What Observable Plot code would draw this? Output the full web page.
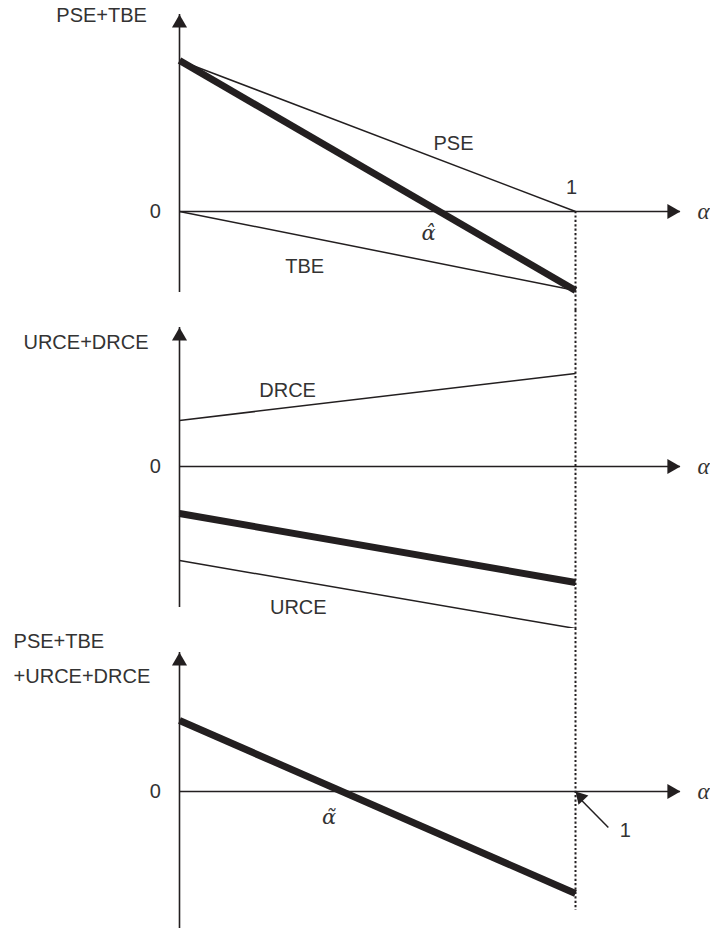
<!DOCTYPE html>
<html><head><meta charset="utf-8">
<script src="https://cdn.jsdelivr.net/npm/d3@7"></script>
<script src="https://cdn.jsdelivr.net/npm/@observablehq/plot@0.6"></script>
<style>body{margin:0;background:#fff} #chart svg{display:block;background:#fff}</style>
</head><body><div id="chart"></div>
<script>
// share of alpha (x) at the two end points
const alpha = [0, 1];
// Panel 1: PSE, TBE and their sum
const pse = [1.0, 0.0];
const tbe = [0.0, -0.523];
const pseTbe = [1.0, -0.523];
// Panel 2: DRCE, URCE and their sum
const drce = [0.305, 0.616];
const urce = [-0.623, -1.073];
const urceDrce = [-0.311, -0.768];
// Panel 3: total
const total = [0.470, -0.675];
// text
const title1 = ["PSE+TBE"];
const title2 = ["URCE+DRCE"];
const title3 = ["PSE+TBE", "+URCE+DRCE"];
const seriesNames = ["PSE", "TBE", "DRCE", "URCE"];
const xName = "α";
const zeroTick = "0";
const oneTick = "1";
const alphaHat = "α\u0302";
const alphaTilde = "α\u0303";

const INK = "#231f20";
const TXT = "#333";
const SANS = "Liberation Sans, Arial, sans-serif";
const SERIF = "Liberation Serif, DejaVu Serif, serif";
const ACCENT = "DejaVu Serif, serif";
const rows = (vals) => alpha.map((a, i) => ({a, v: vals[i]}));

function txt(s, x, y, o = {}) {
  return Plot.text([s], {x, y, text: d => d, fontFamily: o.font || (o.serif ? SERIF : SANS),
    fontStyle: o.serif ? "italic" : "normal", fontSize: o.size || 20, fill: TXT,
    textAnchor: o.anchor || "middle", dx: o.dx || 0, dy: o.dy || 0});
}

function panel({height, zero, yBottom, yTip, dotTop, dotBottom, lines, marks: extra}) {
  const xEnd = 1.265;
  const marks = [
    Plot.ruleX([1], {y1: dotTop, y2: dotBottom, stroke: INK, strokeWidth: 2, strokeDasharray: "2.2,2.2"}),
    Plot.ruleX([0], {y1: yBottom, y2: yTip, stroke: INK, strokeWidth: 1.6}),
    Plot.ruleY([0], {x1: 0, x2: xEnd, stroke: INK, strokeWidth: 1.6}),
    Plot.dot([{x: 0, y: yTip}], {x: "x", y: "y", symbol: "triangle", r: 5.6, fill: INK, stroke: "none", dy: 8.7}),
    Plot.dot([{x: xEnd, y: 0}], {x: "x", y: "y", symbol: "triangle", r: 5.6, fill: INK, stroke: "none", rotate: 90, dx: -8.7}),
    ...lines.map(([vals, w]) => Plot.line(rows(vals), {x: "a", y: "v", stroke: INK, strokeWidth: w, strokeLinecap: "butt"})),
    txt(zeroTick, -0.061, 0),
    txt(xName, 1.323, 0, {serif: true, size: 23}),
    ...extra
  ];
  return Plot.plot({
    width: 710, height,
    x: {domain: [0, 1], range: [179, 575], axis: null},
    y: {domain: [0, 1], range: [zero, zero - 151], axis: null},
    marks
  });
}

const c = document.getElementById("chart");
c.append(panel({
  height: 310, zero: 211, yBottom: -0.536, yTip: 1.305, dotTop: 0, dotBottom: -0.656,
  lines: [[pse, 1.5], [tbe, 1.5], [pseTbe, 7]],
  marks: [
    txt(title1[0], -0.311, 1.298, {anchor: "start"}),
    txt(seriesNames[0], 0.692, 0.45),
    txt(oneTick, 0.99, 0.16),
    txt(alphaHat, 0.629, -0.146, {serif: true, font: ACCENT, size: 21}),
    txt(seriesNames[1], 0.316, -0.364)
  ]
}));
c.append(panel({
  height: 318, zero: 156, yBottom: -0.934, yTip: 0.921, dotTop: 1.033, dotBottom: -1.073,
  lines: [[drce, 1.5], [urce, 1.5], [urceDrce, 7]],
  marks: [
    txt(title2[0], -0.394, 0.821, {anchor: "start"}),
    txt(seriesNames[2], 0.273, 0.503),
    txt(seriesNames[3], 0.30, -0.934)
  ]
}));
c.append(panel({
  height: 304, zero: 163, yBottom: -0.907, yTip: 0.921, dotTop: 1.08, dotBottom: -0.788,
  lines: [[total, 7]],
  marks: [
    txt(title3[0], -0.419, 0.993, {anchor: "start"}),
    txt(title3[1], -0.419, 0.762, {anchor: "start"}),
    txt(alphaTilde, 0.378, -0.172, {serif: true, font: ACCENT, size: 21}),
    txt(oneTick, 1.126, -0.258),
    Plot.link([{x1: 1.083, y1: -0.238, x2: 1.012, y2: -0.05}], {x1: "x1", y1: "y1", x2: "x2", y2: "y2", stroke: INK, strokeWidth: 1.5}),
    Plot.dot([{x: 1.0, y: 0}], {x: "x", y: "y", symbol: "triangle", r: 5, fill: INK, stroke: "none", rotate: -43, dx: 5.3, dy: 5.7})
  ]
}));
</script></body></html>
